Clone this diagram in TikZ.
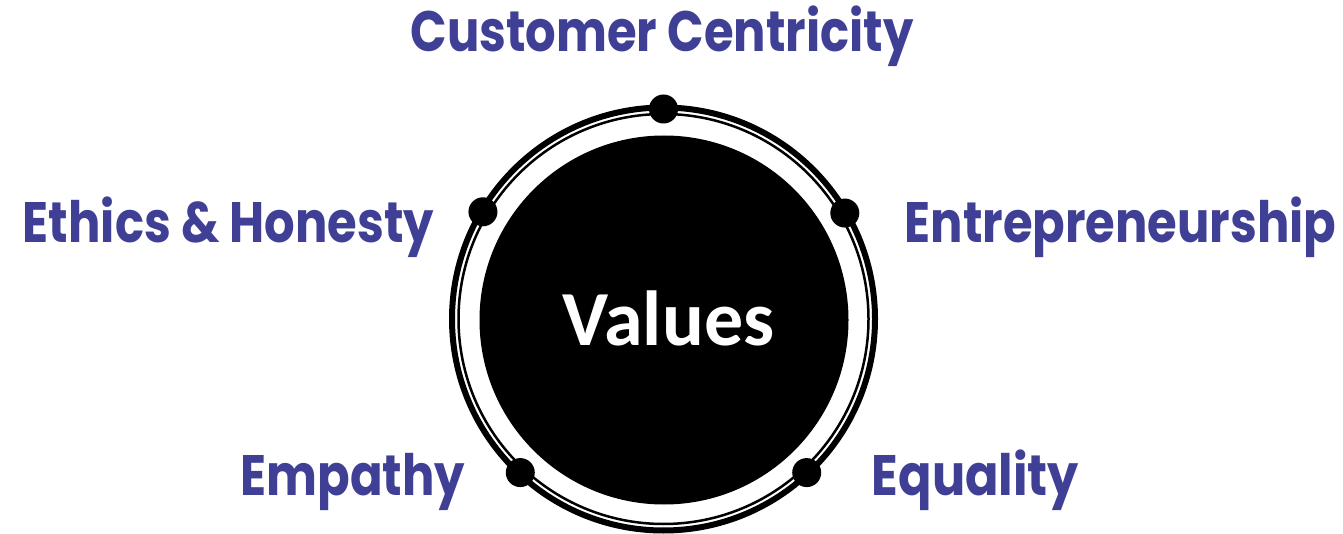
\documentclass[tikz,border=0pt]{standalone}
\usepackage{fontspec}
\newfontfamily\lblfont{Poppins}
\newfontfamily\ctrfont{Carlito}
\definecolor{lblblue}{RGB}{63,63,149}
\begin{document}
\begin{tikzpicture}[x=1pt,y=-1pt,
  lbl/.style={font=\lblfont\bfseries\fontsize{57}{60}\selectfont, text=lblblue, anchor=base, inner sep=0pt, transform shape, xscale=0.843},
  dotnode/.style={circle, fill=black, minimum size=29pt, inner sep=0pt},
  ctr/.style={font=\ctrfont\bfseries\fontsize{78}{80}\selectfont, text=white, anchor=base, inner sep=0pt}]
\useasboundingbox (0,0) rectangle (1343,534);
\coordinate (c) at (663.5,319);
\draw[line width=6pt] (c) circle[radius=211.5pt];
\draw[line width=2.5pt] (c) circle[radius=205pt];
\node[circle, fill=black, minimum size=369pt, inner sep=0pt] (core) at (664,320) {};
\node[dotnode] (d1) at ([shift={(90:210pt)}]c) {};
\node[dotnode] (d2) at ([shift={(30.3:210pt)}]c) {};
\node[dotnode] (d3) at ([shift={(149.3:210pt)}]c) {};
\node[dotnode] (d4) at ([shift={(-47:210pt)}]c) {};
\node[dotnode] (d5) at ([shift={(227:210pt)}]c) {};
\node[ctr] (values) at (668.5,345) {Values};
\node[lbl] (cc) at (662,52) {Customer Centricity};
\node[lbl] (eh) at (228.5,243) {Ethics \& Honesty};
\node[lbl] (en) at (1120.5,243) {Entrepreneurship};
\node[lbl] (em) at (353,495) {Empathy};
\node[lbl, xscale=1.026] (eq) at (975.5,495) {Equality};
\end{tikzpicture}
\end{document}
